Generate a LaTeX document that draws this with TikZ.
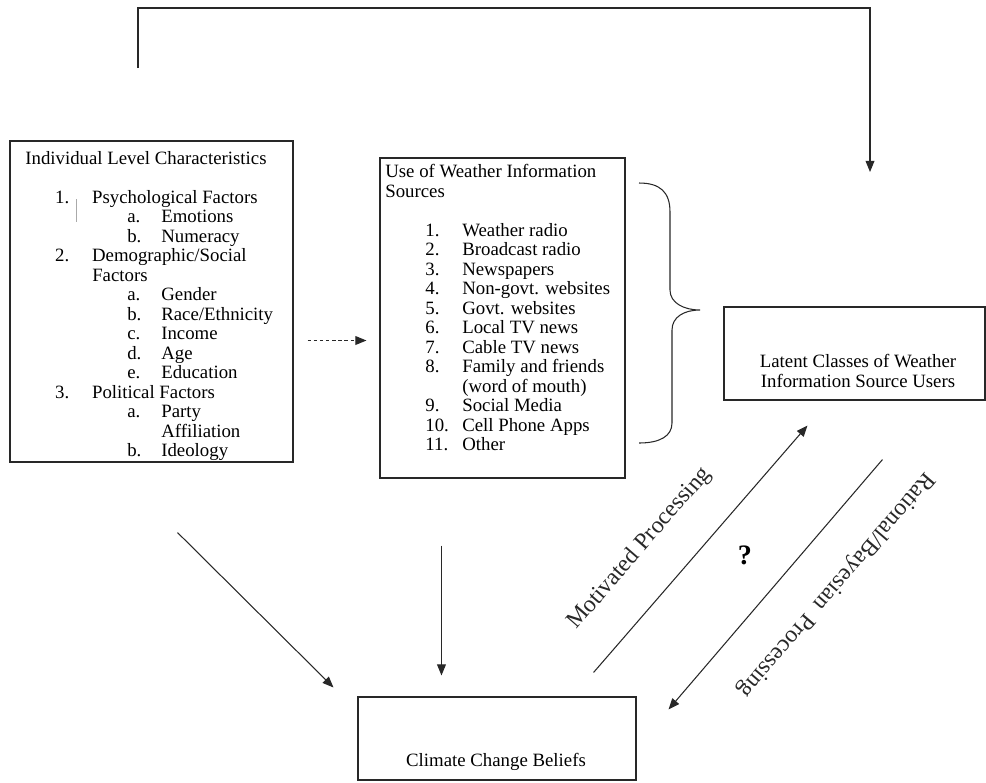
\documentclass[tikz,border=0pt]{standalone}
\usepackage{fontspec}
\setmainfont{Liberation Serif}
\usepackage{tikz}
\usetikzlibrary{arrows.meta, positioning, fit, calc}
\definecolor{linegray}{RGB}{40, 40, 40}
\definecolor{markgray}{RGB}{170, 170, 170}

% list entries with Word-like hanging indents
\newcommand{\mainentry}[2]{\hspace*{17pt}\makebox[21pt][l]{#1}#2}
\newcommand{\subentry}[2]{\hspace*{58pt}\makebox[19.4pt][l]{#1}#2}
\newcommand{\srcentry}[2]{\hspace*{22.8pt}\makebox[21pt][l]{#1}#2}

\begin{document}
\begin{tikzpicture}[
    x=0.02cm, y=-0.02cm,
    box/.style={rectangle, draw=linegray, line width=0.6pt, inner sep=0pt},
    listtext/.style={inner sep=0pt, anchor=north west, align=left, font=\fontsize{10.7}{11.1}\selectfont},
    boxtext/.style={inner sep=0pt, align=center, font=\fontsize{10.7}{11.1}\selectfont},
    pathlabel/.style={sloped, inner sep=0pt, font=\fontsize{13.5}{15}\selectfont},
    conn/.style={-{Triangle[length=6.3pt, width=5pt]}, line width=0.6pt, linegray},
    dashconn/.style={conn, dash pattern=on 2pt off 1.5pt}
]
    \useasboundingbox (0,0) rectangle (986,782);

    % Boxes
    \node[box, fit={(10,141) (293,462)}] (indiv) {};
    \node[box, fit={(380,158) (625,478)}] (sources) {};
    \node[box, fit={(724,307) (985,400)}] (latent) {};
    \node[box, fit={(358,697) (636,780)}] (beliefs) {};

    % Box texts
    \node[listtext] (indivtext) at (25,151) {Individual Level Characteristics\\[11.1pt]
        \mainentry{1.}{Psychological Factors}\\
        \subentry{a.}{Emotions}\\
        \subentry{b.}{Numeracy}\\
        \mainentry{2.}{Demographic/Social}\\
        \hspace*{38.1pt}Factors\\
        \subentry{a.}{Gender}\\
        \subentry{b.}{Race/Ethnicity}\\
        \subentry{c.}{Income}\\
        \subentry{d.}{Age}\\
        \subentry{e.}{Education}\\
        \mainentry{3.}{Political Factors}\\
        \subentry{a.}{Party}\\
        \hspace*{77.4pt}Affiliation\\
        \subentry{b.}{Ideology}};
    \draw[markgray, line width=0.4pt] (76,199) -- (76,222);

    \node[listtext] (sourcestext) at (385,164) {Use of Weather Information\\
        Sources\\[11.1pt]
        \srcentry{1.}{Weather radio}\\
        \srcentry{2.}{Broadcast radio}\\
        \srcentry{3.}{Newspapers}\\
        \srcentry{4.}{Non-govt. websites}\\
        \srcentry{5.}{Govt. websites}\\
        \srcentry{6.}{Local TV news}\\
        \srcentry{7.}{Cable TV news}\\
        \srcentry{8.}{Family and friends}\\
        \hspace*{43.8pt}(word of mouth)\\
        \srcentry{9.}{Social Media}\\
        \srcentry{10.}{Cell Phone Apps}\\
        \srcentry{11.}{Other}};

    \node[boxtext] (latenttext) at (858,371) {Latent Classes of Weather\\ Information Source Users};
    \node[boxtext] (beliefstext) at (496,762) {Climate Change Beliefs};

    % Brace grouping the sources
    \draw[linegray, line width=0.6pt] (639,183) .. controls (660,183) and (670,192) .. (670,212)
        -- (670,290) .. controls (670,303) and (684,310) .. (700,310)
        .. controls (684,310) and (672,317) .. (672,330)
        -- (672,423) .. controls (672,436) and (660,443) .. (639,443);

    % Feedback line over the top
    \coordinate (fbstart) at (138,68);
    \coordinate (fbtop) at (0,8);
    \coordinate (fbend) at (870,172);
    \draw[conn] (fbstart) -- (fbstart |- fbtop) -| (fbend);

    % Connections
    \draw[dashconn] ($(indiv.east)+(14,39)$) -- ($(sources.west |- indiv.east)+(-13,39)$);
    \draw[conn] ($(indiv.south)+(26,70)$) -- ($(beliefs.north west)+(-24,-9)$);
    \draw[conn] ($(sources.south west)+(62,67)$) -- ($(beliefs.north west)+(84,-21)$);
    \draw[conn] ($(beliefs.north east)+(-43,-24)$) -- node[pathlabel, pos=0.38, above=0.7cm] (motivated) {Motivated Processing} ($(latent.south west)+(84,25)$);
    \draw[conn] ($(latent.south west)+(159,59)$) -- node[pathlabel, allow upside down, pos=0.38, above=0.7cm] (rational) {Rational/Bayesian\ \ Processing} ($(beliefs.north east)+(32,13)$);

    \node[font=\fontsize{16}{18}\selectfont\bfseries] (unknown) at (745,555) {?};

\end{tikzpicture}
\end{document}
